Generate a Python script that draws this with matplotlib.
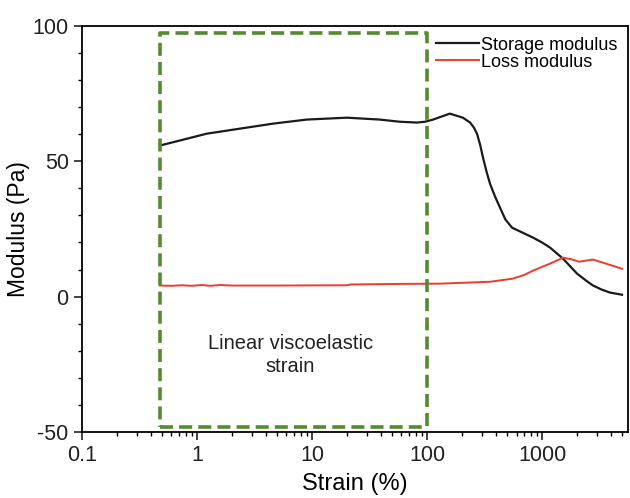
import numpy as np
import matplotlib
matplotlib.use("Agg")
import matplotlib.pyplot as plt
from matplotlib.ticker import LogLocator, MultipleLocator, FixedLocator

plt.rcParams["font.family"] = ["Liberation Sans", "DejaVu Sans"]
plt.rcParams["axes.unicode_minus"] = False

# storage modulus (black)
strain_g1 = [0.476, 1.22, 4.59, 9.0, 20.1, 38.8, 58, 81.9, 96, 113, 158, 205, 237,
             255, 272, 290, 307, 330, 353, 390, 431, 480, 548, 680, 835, 1000, 1175, 1524,
             2015, 2400, 2775, 3300, 3900, 4960]
storage = [55.8, 60.2, 63.9, 65.4, 66.1, 65.4, 64.6, 64.3, 64.6, 65.4, 67.6, 66.1, 64.3,
           62.5, 60.2, 56.0, 51.3, 46.0, 41.7, 37.0, 32.9, 28.5, 25.5, 23.6, 21.8, 20.0, 18.1, 14.0,
           8.5, 6.0, 4.1, 2.6, 1.5, 0.7]

# loss modulus (red)
strain_g2 = [0.476, 0.6, 0.75, 0.9, 1.1, 1.3, 1.6, 2.0, 5.0, 20.0, 22.0, 58, 130, 353,
             548, 700, 835, 1000, 1175, 1524, 1800, 2100, 2775, 3600, 4960]
loss = [4.1, 4.0, 4.2, 4.0, 4.3, 4.0, 4.3, 4.1, 4.1, 4.2, 4.5, 4.7, 4.8, 5.5,
        6.6, 8.0, 9.6, 11.0, 12.2, 14.4, 13.8, 12.9, 13.7, 12.2, 10.3]

lve_x = [0.476, 100]
lve_y = [-48.2, 97.4]

fig = plt.figure(figsize=(6.3, 4.98), dpi=100)
ax = fig.add_axes([0.130, 0.1325, 0.867, 0.8155])

ax.plot(strain_g1, storage, color="#1a1a1a", lw=1.6, label="Storage modulus")
ax.plot(strain_g2, loss, color="#f03a2e", lw=1.4, label="Loss modulus")

ax.plot([lve_x[0], lve_x[1], lve_x[1], lve_x[0], lve_x[0]],
        [lve_y[0], lve_y[0], lve_y[1], lve_y[1], lve_y[0]],
        color="#558a33", lw=2.6, dashes=(3.6, 1.7))

ax.text(6.5, -21.5, "Linear viscoelastic\nstrain", ha="center", va="center",
        fontsize=14.5, linespacing=1.3, color="#222")

ax.set_xscale("log")
ax.set_xlim(0.1, 5600)
ax.set_ylim(-50, 100)
ax.set_xticks([0.1, 1, 10, 100, 1000])
ax.set_xticklabels(["0.1", "1", "10", "100", "1000"])
ax.xaxis.set_minor_locator(LogLocator(base=10, subs=np.arange(2, 10)))
ax.xaxis.set_minor_formatter(plt.NullFormatter())
ax.yaxis.set_major_locator(FixedLocator([-50, 0, 50, 100]))
ax.yaxis.set_minor_locator(MultipleLocator(10))

ax.tick_params(which="major", direction="out", length=6, width=1.2, labelsize=15.5, colors="#222")
ax.tick_params(which="minor", direction="out", length=3, width=1.0)
for s in ax.spines.values():
    s.set_linewidth(1.3)

ax.set_xlabel("Strain (%)", fontsize=17, labelpad=5)
ax.set_ylabel("Modulus (Pa)", fontsize=16.5, labelpad=2)

ax.legend(loc="upper right", bbox_to_anchor=(1.0, 1.0), frameon=False, fontsize=13,
          handlelength=2.4, handletextpad=0.1, labelspacing=0.0, borderaxespad=0.2)

fig.savefig("out.png", dpi=100)
